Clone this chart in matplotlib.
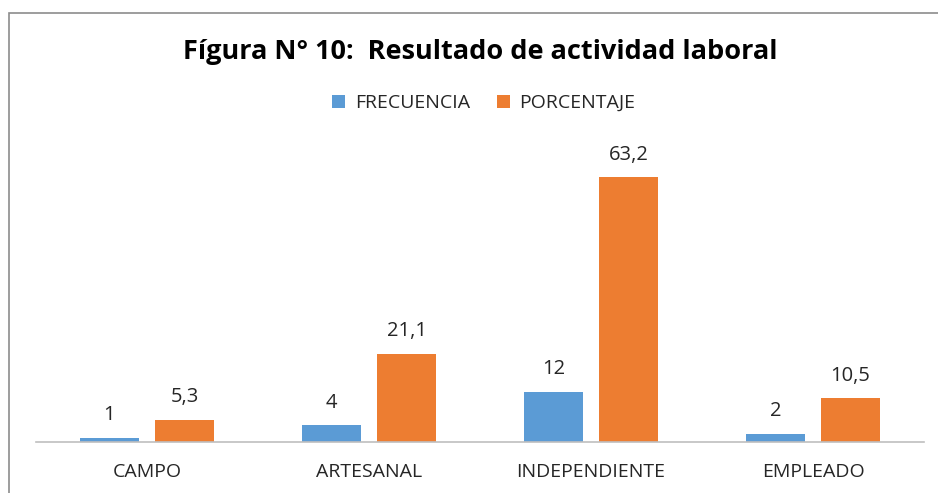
import matplotlib
matplotlib.use("Agg")

import matplotlib.pyplot as plt
from matplotlib.patches import Rectangle
import numpy as np

# Data
categories = ["CAMPO", "ARTESANAL", "INDEPENDIENTE", "EMPLEADO"]
frecuencia = [1, 4, 12, 2]
porcentaje = [5.3, 21.1, 63.2, 10.5]
frec_labels = ["1", "4", "12", "2"]
porc_labels = ["5,3", "21,1", "63,2", "10,5"]

blue = "#5B9BD5"
orange = "#ED7D31"

plt.rcParams["font.family"] = ["Open Sans", "DejaVu Sans"]

W, H = 938, 493
fig = plt.figure(figsize=(W / 100, H / 100), dpi=100)

# Chart border (only top/left visible, the rest runs off the picture)
fig.patches.append(
    Rectangle(
        (9 / W, -0.1), 1.2, (H - 13) / H + 0.1,
        transform=fig.transFigure,
        fill=False, edgecolor="#8c8c8c", linewidth=1.2
    )
)

ax = fig.add_axes([36 / W, 51 / H, 888 / W, 293 / H])

x = np.arange(len(categories))
bw = 0.266
off = 0.169

b1 = ax.bar(x - off, frecuencia, bw, color=blue, label="FRECUENCIA")
b2 = ax.bar(x + off, porcentaje, bw, color=orange, label="PORCENTAJE")

for bar, lab in zip(b1, frec_labels):
    ax.annotate(
        lab,
        (bar.get_x() + bar.get_width() / 2, bar.get_height()),
        xytext=(0, 9), textcoords="offset points",
        ha="center", va="bottom", fontsize=14.5, color="#262626"
    )

for bar, lab in zip(b2, porc_labels):
    ax.annotate(
        lab,
        (bar.get_x() + bar.get_width() / 2, bar.get_height()),
        xytext=(0, 9), textcoords="offset points",
        ha="center", va="bottom", fontsize=14.5, color="#262626"
    )

ax.set_xlim(-0.5, len(categories) - 0.5)
ax.set_ylim(0, 70)
ax.set_xticks(x)
ax.set_xticklabels(categories, fontsize=14, color="#262626")
ax.tick_params(axis="x", length=0, pad=15)
ax.set_yticks([])

for side in ["top", "right", "left"]:
    ax.spines[side].set_visible(False)
ax.spines["bottom"].set_color("#bfbfbf")
ax.spines["bottom"].set_linewidth(1.2)

fig.text(
    480 / W, 1 - 52 / H,
    "Fígura N° 10:  Resultado de actividad laboral",
    ha="center", va="center", fontsize=19.5, fontweight="bold", color="black"
)

fig.legend(
    loc="center", bbox_to_anchor=(484 / W, 1 - 103 / H),
    ncol=2, frameon=False, fontsize=14,
    handlelength=0.65, handleheight=0.65, columnspacing=1.4,
    handletextpad=0.5, labelcolor="#262626"
)

plt.savefig("out.png", dpi=100)
